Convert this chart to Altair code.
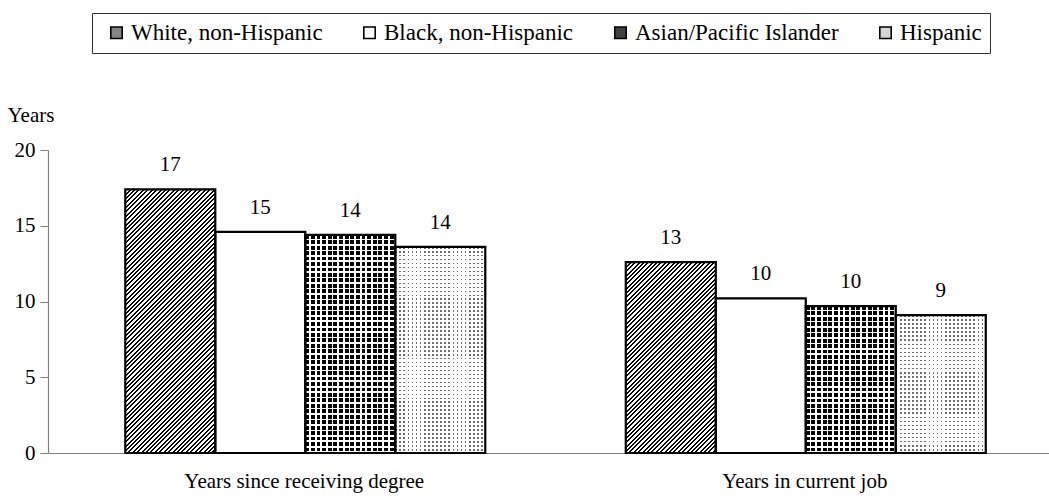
import altair as alt
import pandas as pd

# ---- data -------------------------------------------------------------
categories = ["Years since receiving degree", "Years in current job"]
groups = ["White, non-Hispanic", "Black, non-Hispanic", "Asian/Pacific Islander", "Hispanic"]
white_values = [17.4, 12.6]
black_values = [14.6, 10.2]
asian_values = [14.4, 9.7]
hispanic_values = [13.6, 9.1]
y_ticks = [0, 5, 10, 15, 20]

series_values = [white_values, black_values, asian_values, hispanic_values]
rows = []
for g, vals in zip(groups, series_values):
    for c, v in zip(categories, vals):
        rows.append({"category": c, "group": g, "years": v})
df = pd.DataFrame(rows)

# ---- layout / style -----------------------------------------------------
FONT = "Liberation Serif"
FS = 21
LEGEND_FS = 23
PLOT_W, PLOT_H = 1001, 303
Y_MAX = 20
PX_PER_YEAR = PLOT_H / Y_MAX
OUTER = 0.7806                     # xOffset outer padding -> 90px bars
BAR_W = (PLOT_W / 2) / (4 + 2 * OUTER)
AXIS_GRAY = "#808080"

# legend swatches (solid stand-ins for the bar textures)
legend_fills = ["#858585", "#ffffff", "#404040", "#d6d6d6"]


def stripe_stops(n, ink, paper, duty):
    """Hard-edged repeating stripes as gradient stops."""
    stops = []
    for i in range(n):
        a = round(i / n, 6)
        b = round((i + duty) / n, 6)
        c = round((i + 1) / n, 6)
        stops += [
            {"offset": a, "color": ink},
            {"offset": b, "color": ink},
            {"offset": b, "color": paper},
            {"offset": c, "color": paper},
        ]
    return stops


def hatch(h, period=4.4, duty=0.45):
    # diagonal "/" lines at 45 degrees for a bar of height h
    n = max(1, round((BAR_W + h) / period))
    k = (BAR_W + h) / (BAR_W ** 2 + h ** 2)
    return {"gradient": "linear", "x1": 0, "y1": 0, "x2": k * BAR_W, "y2": k * h,
            "stops": stripe_stops(n, "black", "white", duty)}


def rows_grad(h, ink, paper, period, duty):
    n = max(1, round(h / period))
    return {"gradient": "linear", "x1": 0, "y1": 0, "x2": 0, "y2": 1,
            "stops": stripe_stops(n, ink, paper, duty)}


def cols_grad(ink, paper, period, duty):
    n = max(1, round(BAR_W / period))
    return {"gradient": "linear", "x1": 0, "y1": 0, "x2": 1, "y2": 0,
            "stops": stripe_stops(n, ink, paper, duty)}


# ---- shared encodings ---------------------------------------------------
x_enc = alt.X(
    "category:N", sort=categories,
    scale=alt.Scale(paddingInner=0, paddingOuter=0),
    axis=alt.Axis(title=None, labelAngle=0, ticks=False, labelPadding=17,
                  labelOffset=6, labelFont=FONT, labelFontSize=FS,
                  labelColor="black", labelLimit=0,
                  domainColor=AXIS_GRAY, domainWidth=1.2),
)
xo_enc = alt.XOffset(
    "group:N", sort=groups,
    scale=alt.Scale(paddingInner=0, paddingOuter=OUTER, align=0.55),
)
y_enc = alt.Y(
    "years:Q", scale=alt.Scale(domain=[0, Y_MAX], nice=False),
    axis=alt.Axis(values=y_ticks, grid=False, title="Years", titleAngle=0,
                  titleX=-41, titleY=-35, titleAlign="left", titleBaseline="middle",
                  titleFont=FONT, titleFontSize=FS, titleFontWeight="normal",
                  titleColor="black", labelFont=FONT, labelFontSize=FS,
                  labelColor="black", labelPadding=5, tickSize=8,
                  tickColor=AXIS_GRAY, domainColor=AXIS_GRAY, domainWidth=1.2),
)

base = alt.Chart(df).encode(x=x_enc, xOffset=xo_enc, y=y_enc)


def one_bar(cat, grp):
    return base.transform_filter(
        (alt.datum.category == cat) & (alt.datum.group == grp)
    )


# underlying solid bars (also drive the legend)
layers = [
    base.mark_bar().encode(
        fill=alt.Fill(
            "group:N", sort=groups,
            scale=alt.Scale(domain=groups, range=legend_fills),
            legend=alt.Legend(
                title="\u2002", titleOrient="left", titlePadding=5,
                titleFont=FONT, titleFontSize=LEGEND_FS,
                orient="none", legendX=44, legendY=-137,
                direction="horizontal", columns=4, columnPadding=35,
                symbolType="square", symbolSize=130, symbolStrokeColor="black",
                symbolStrokeWidth=1.6, symbolOffset=0, labelOffset=3,
                labelFont=FONT, labelFontSize=LEGEND_FS, labelColor="black",
                labelLimit=0,
                labelExpr="datum.label == 'Hispanic' ? datum.label + '\u2003' : datum.label",
                padding=8, strokeColor="#333333", fillColor="white",
            ),
        )
    )
]

# textures, one bar at a time
for cat, v in zip(categories, white_values):
    layers.append(one_bar(cat, groups[0]).mark_bar(fill=hatch(v * PX_PER_YEAR)))

for cat, v in zip(categories, asian_values):
    layers.append(one_bar(cat, groups[2]).mark_bar(
        fill=rows_grad(v * PX_PER_YEAR, "black", "white", 5.5, 0.7)))
layers.append(base.transform_filter(alt.datum.group == groups[2]).mark_bar(
    fill=cols_grad("transparent", "white", 5.5, 0.7)))

for cat, v in zip(categories, hispanic_values):
    layers.append(one_bar(cat, groups[3]).mark_bar(
        fill=rows_grad(v * PX_PER_YEAR, "#6e6e6e", "white", 4.0, 0.4)))
layers.append(base.transform_filter(alt.datum.group == groups[3]).mark_bar(
    fill=cols_grad("transparent", "white", 4.0, 0.4)))

# outlines and value labels
layers.append(base.mark_bar(filled=False, stroke="black", strokeWidth=2.2))
layers.append(
    base.mark_text(font=FONT, fontSize=FS, baseline="middle", dy=-24, color="black")
    .encode(text=alt.Text("years:Q", format=".0f"))
)

chart = (
    alt.layer(*layers)
    .properties(
        width=PLOT_W, height=PLOT_H, autosize="none",
        padding={"left": 48, "top": 150, "right": 0, "bottom": 46},
        background="white",
    )
    .configure_view(stroke=None)
)

chart.save("out.html", embed_options={"renderer": "svg", "actions": False})
